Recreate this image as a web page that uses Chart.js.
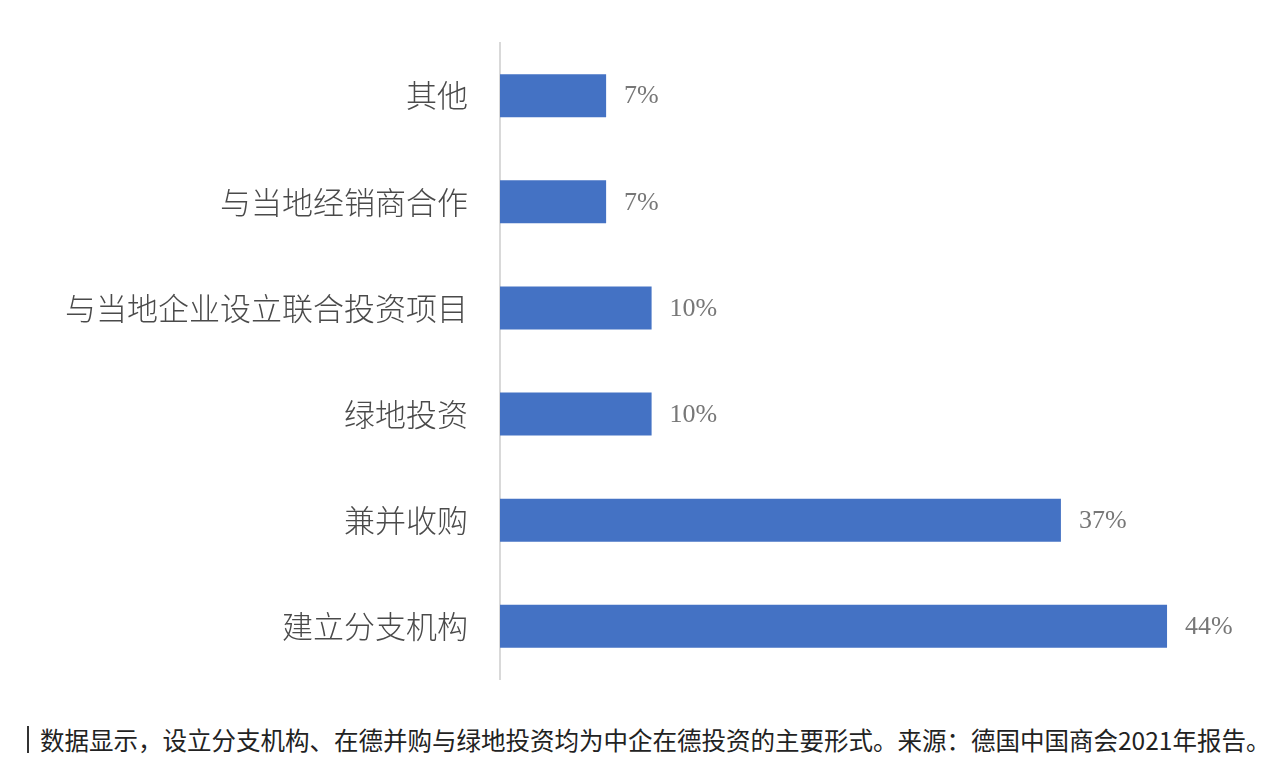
<!DOCTYPE html>
<html>
<head>
<meta charset="utf-8">
<script src="https://cdn.jsdelivr.net/npm/chart.js@4/dist/chart.umd.min.js"></script>
<style>
  html, body { margin: 0; padding: 0; background: #fff; overflow: hidden; }
  .wrap { position: relative; width: 1272px; height: 722px; }
  .caption {
    position: absolute; left: 27px; top: 726px;
    border-left: 2px solid #333; padding-left: 11px;
    font-family: "Noto Sans CJK SC", sans-serif; font-size: 24.5px; line-height: 27px;
    color: #222; white-space: nowrap;
  }
</style>
</head>
<body>
<div class="wrap"><canvas id="chart"></canvas></div>
<div class="caption">数据显示，设立分支机构、在德并购与绿地投资均为中企在德投资的主要形式。来源：德国中国商会2021年报告。</div>
<script>
const categories = ['其他', '与当地经销商合作', '与当地企业设立联合投资项目', '绿地投资', '兼并收购', '建立分支机构'];
const shares = [7, 7, 10, 10, 37, 44];

// value labels to the right of each bar
const valueLabels = {
  id: 'valueLabels',
  afterDatasetsDraw(chart) {
    const { ctx } = chart;
    const meta = chart.getDatasetMeta(0);
    ctx.save();
    ctx.font = '26px "Liberation Serif", serif';
    ctx.fillStyle = '#777';
    ctx.textBaseline = 'middle';
    meta.data.forEach((bar, i) => {
      ctx.fillText(shares[i] + '%', bar.x + 18, bar.y + 1);
    });
    ctx.restore();
  },
};

new Chart(document.getElementById('chart'), {
  type: 'bar',
  data: {
    labels: categories,
    datasets: [
      {
        data: shares,
        backgroundColor: '#4472C4',
        barPercentage: 0.405,
        categoryPercentage: 1,
      },
    ],
  },
  options: {
    indexAxis: 'y',
    responsive: true,
    maintainAspectRatio: false,
    animation: false,
    layout: { padding: { top: 37, bottom: 20, left: 0, right: 14 } },
    plugins: { legend: { display: false }, tooltip: { enabled: false } },
    scales: {
      x: { display: false, min: 0, max: 50 },
      y: {
        grid: { display: false },
        border: { display: true, color: '#d9d9d9', width: 2 },
        ticks: {
          padding: 24,
          color: '#4a4a4a',
          font: { family: '"Noto Sans CJK SC", sans-serif', size: 31, weight: '300' },
        },
        afterFit: (scale) => { scale.width = 500; },
      },
    },
  },
  plugins: [valueLabels],
});
</script>
</body>
</html>
